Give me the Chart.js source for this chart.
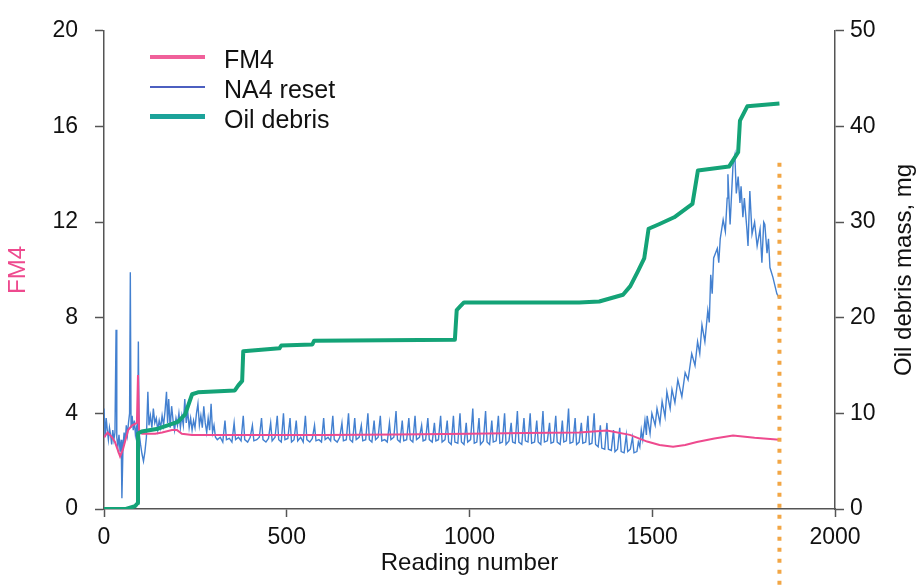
<!DOCTYPE html>
<html>
<head>
<meta charset="utf-8">
<script src="https://cdn.jsdelivr.net/npm/chart.js@4/dist/chart.umd.min.js"></script>
<style>
  html, body { margin: 0; padding: 0; background: #ffffff; }
  #wrap { position: relative; width: 920px; height: 585px; }
  #legend { position: absolute; left: 150px; top: 44px; font-family: "Liberation Sans", Arial, sans-serif; font-size: 25px; color: #111; }
  .row { display: flex; align-items: center; height: 30px; }
  .sw { width: 55px; margin-right: 19px; margin-top: -5px; }
</style>
</head>
<body>
<div id="wrap">
  <canvas id="c" width="920" height="585"></canvas>
  <div id="legend"></div>
</div>
<script>
// ---- Data ----
const xTickStep = 500;
const leftTickStep = 4;
const rightTickStep = 10;
const xTitle = "Reading number";
const leftTitle = "FM4";
const rightTitle = "Oil debris mass, mg";

// FM4 : [reading, value]
const fm4Points = [
  [0,3.0],[10,3.2],[22,3.0],[30,2.8],[44,2.2],[52,2.5],[66,3.3],[77,3.5],[90,3.6],[93,5.6],[96,3.3],
  [104,3.15],[140,3.15],[159,3.2],[186,3.3],[200,3.3],[213,3.15],[241,3.1],[400,3.1],[600,3.1],
  [800,3.12],[1000,3.15],[1150,3.18],[1300,3.2],[1376,3.28],[1439,3.1],[1486,2.82],[1520,2.68],
  [1557,2.6],[1590,2.68],[1622,2.8],[1670,2.95],[1721,3.07],[1780,2.98],[1848,2.9]
];

// NA4 reset : [reading, value]
const na4Points = [
  [0,4.2],[3,3.0],[6,3.8],[9,3.3],[12,2.9],[15,3.4],[18,3.1],[21,2.7],[24,3.3],[27,2.9],[30,3.2],[33,7.5],
  [35,3.0],[38,2.6],[41,3.1],[44,2.4],[47,2.9],[49,0.45],[52,2.6],[55,3.2],[58,2.8],[61,3.5],[64,3.1],
  [67,3.6],[70,4.0],[72,9.9],[74,3.4],[77,3.9],[80,3.3],[83,3.7],[86,3.1],[89,3.4],[92,3.0],[94,7.0],
  [96,3.2],[100,2.7],[104,2.3],[108,2.0],[112,2.4],[116,3.0],[120,4.9],[123,3.5],[127,3.9],[131,3.4],
  [135,4.2],[139,3.6],[143,3.8],[147,3.3],[151,3.7],[155,3.4],[159,3.9],[163,3.5],[167,4.1],[171,4.9],
  [174,3.6],[177,4.6],[181,3.4],[185,4.3],[189,3.7],[193,3.3],[197,3.8],[201,3.5],[205,4.0],[209,3.4],
  [213,3.9],[217,3.5],[221,4.6],[225,3.6],[229,4.1],[233,3.4],[237,3.8],[241,3.3],[245,3.7],[249,3.4],
  [253,4.0],[257,4.4],[261,3.5],[265,3.9],[269,3.4],[273,4.3],[277,3.6],[281,3.2],[285,3.8],[289,3.3],
  [293,4.4],[297,3.2],[301,3.5],[305,3.0],
  [310,2.9],[318,3.0],[325,2.8],[331,3.7],[335,2.9],[343,2.95],[350,2.8],[356,3.6],[360,2.9],[368,3.0],
  [375,2.85],[381,3.9],[385,2.9],[393,2.8],[400,3.0],[406,3.5],[410,2.85],[418,2.9],[425,3.0],[431,3.8],
  [435,2.9],[443,2.8],[450,2.95],[456,3.6],[460,2.85],[468,3.0],[474,3.9],[478,2.9],[485,2.8],[491,4.0],
  [495,2.9],[503,2.95],[509,3.8],[513,2.8],[520,2.9],[526,3.7],[530,2.85],[538,3.0],[545,2.8],[551,3.9],
  [555,2.9],[563,2.8],[570,2.95],[576,3.5],[580,2.85],[588,2.9],[595,2.8],[601,3.8],[605,2.9],[613,3.0],
  [620,2.85],[626,3.9],[630,2.9],[638,2.8],[645,3.0],[651,3.6],[655,2.85],[663,2.9],[669,4.0],[673,2.9],
  [680,2.8],[686,3.8],[690,2.9],[698,3.0],[704,3.5],[708,2.85],[716,2.9],[722,4.0],[726,2.9],[733,2.8],
  [739,3.7],[743,2.9],[750,3.0],[756,3.9],[760,2.85],[768,2.9],[775,2.8],[781,3.6],[785,2.9],[793,3.0],
  [799,4.1],[803,2.9],[810,2.8],[816,3.7],[820,2.85],[828,2.9],[834,3.8],[838,2.9],[845,2.8],[851,3.9],
  [855,2.9],[863,3.0],[869,3.5],[873,2.85],[880,2.9],[886,3.8],[890,2.9],[898,2.8],[904,3.6],[908,2.85],
  [915,2.9],[921,3.9],[925,2.8],[933,2.9],[939,3.7],[943,2.8],[950,2.7],[956,3.9],[960,2.8],[968,2.75],
  [974,4.0],[978,2.8],[985,2.7],[991,3.6],[995,2.8],[1003,2.9],[1009,4.2],[1013,2.75],[1020,2.8],[1026,3.8],
  [1030,2.7],[1038,2.85],[1044,4.1],[1048,2.8],[1055,2.7],[1061,3.7],[1065,2.8],[1073,2.85],[1079,3.9],
  [1083,2.75],[1090,2.8],[1096,4.0],[1100,2.7],[1108,2.85],[1114,3.6],[1118,2.8],[1125,2.75],[1131,4.1],
  [1135,2.8],[1143,2.7],[1149,3.8],[1153,2.85],[1160,2.8],[1166,4.0],[1170,2.75],[1178,2.8],[1184,3.7],
  [1188,2.8],[1195,2.7],[1201,4.1],[1205,2.8],[1213,2.85],[1219,3.6],[1223,2.75],[1230,2.8],[1236,3.9],
  [1240,2.8],[1248,2.7],[1254,3.7],[1258,2.8],[1265,2.85],[1271,4.2],[1275,2.75],[1283,2.8],[1289,3.8],
  [1293,2.7],[1300,2.8],[1306,3.6],[1310,2.75],[1318,2.8],[1324,3.9],[1328,2.7],[1335,2.75],[1341,4.0],
  [1345,2.7],[1352,2.6],[1358,3.5],[1362,2.55],[1370,2.5],[1376,3.6],[1380,2.5],[1388,2.45],[1394,3.3],
  [1398,2.4],[1405,2.5],[1411,3.4],[1415,2.4],[1423,2.35],[1429,3.1],[1433,2.4],[1440,2.5],[1446,3.0],
  [1450,2.35],[1458,2.4],[1462,2.8],[1466,2.6],
  [1470,3.3],[1474,2.9],[1480,3.7],[1484,3.1],[1486,3.9],[1494,3.15],[1499,4.0],[1508,3.5],[1513,4.2],
  [1521,3.6],[1527,4.5],[1535,3.85],[1540,4.9],[1549,4.2],[1554,5.0],[1562,4.45],[1570,5.4],[1581,4.7],
  [1590,5.7],[1598,5.4],[1608,6.5],[1617,6.0],[1624,7.0],[1630,6.5],[1636,7.7],[1644,7.0],[1652,8.3],
  [1656,7.8],[1660,9.8],[1664,9.0],[1668,10.5],[1678,10.9],[1682,10.3],[1686,11.3],[1694,12.1],[1700,11.6],
  [1705,13.0],[1707,14.0],[1713,11.9],[1721,14.4],[1726,14.8],[1730,13.2],[1735,13.9],[1740,12.8],
  [1743,13.5],[1748,12.2],[1752,13.0],[1759,11.7],[1762,11.0],[1767,13.3],[1773,11.5],[1780,12.0],
  [1787,11.0],[1795,11.7],[1800,10.3],[1805,12.0],[1808,11.9],[1814,10.7],[1818,11.3],[1822,10.1],
  [1830,9.7],[1841,9.0],[1848,8.8]
];

// Oil debris mass (mg) : [reading, value]
const oilPoints = [
  [0,0],[60,0],[85,0.3],[92,0.6],[93,7.9],[103,8.1],[148,8.4],[202,9.1],[222,9.9],[241,12.0],[257,12.2],
  [358,12.4],[367,12.9],[378,13.4],[381,16.5],[480,16.8],[485,17.1],[570,17.2],[575,17.6],[960,17.7],
  [965,20.8],[975,21.2],[985,21.6],[1300,21.6],[1355,21.7],[1420,22.4],[1440,23.3],[1460,24.8],[1478,26.2],
  [1490,29.3],[1520,29.8],[1560,30.5],[1610,31.9],[1625,35.4],[1710,35.8],[1735,37.3],[1740,40.6],
  [1760,42.1],[1848,42.4]
];

// end-of-test marker (reading, mg range on right axis)
const stopReading = 1848;
const stopRangeMg = [36.2, -8];

const seriesNames = ["FM4", "NA4 reset", "Oil debris"];
const seriesColors = ["#EE4A8E", "#4380D0", "#14A377"];
const legendColors = ["#F0609A", "#4C5FC0", "#1CA39A"];
const legendWidths = [4, 2.5, 5];

const toXY = arr => arr.map(p => ({x: p[0], y: p[1]}));
const FONT = '"Liberation Sans", Arial, sans-serif';
const INK = '#111111';
const AXIS = '#555555';
const plainTick = v => String(v);

const rightTitlePlugin = {
  id: 'rightTitle',
  afterDraw(chart) {
    const s = chart.scales.y2;
    const ctx = chart.ctx;
    ctx.save();
    ctx.translate(s.right - 16, (s.top + s.bottom) / 2);
    ctx.rotate(-Math.PI / 2);
    ctx.font = '24px ' + FONT;
    ctx.fillStyle = INK;
    ctx.textAlign = 'center';
    ctx.textBaseline = 'middle';
    ctx.fillText(rightTitle, 0, 0);
    ctx.restore();
  }
};

const chart = new Chart(document.getElementById('c'), {
  type: 'line',
  data: {
    datasets: [
      { label: seriesNames[0], data: toXY(fm4Points), yAxisID: 'y', borderColor: seriesColors[0], borderWidth: 2, pointRadius: 0, order: 2 },
      { label: seriesNames[1], data: toXY(na4Points), yAxisID: 'y', borderColor: seriesColors[1], borderWidth: 1.4, pointRadius: 0, order: 3 },
      { label: seriesNames[2], data: toXY(oilPoints), yAxisID: 'y2', borderColor: seriesColors[2], borderWidth: 4, pointRadius: 0, order: 1, borderJoinStyle: 'round' },
      { label: 'end', data: stopRangeMg.map(v => ({x: stopReading, y: v})), yAxisID: 'y2', borderColor: '#F2A645', borderWidth: 4, borderDash: [4, 7], pointRadius: 0, order: 0, clip: false }
    ]
  },
  options: {
    responsive: false,
    animation: false,
    events: [],
    layout: { padding: { top: 20, left: 0, right: 0, bottom: 0 } },
    plugins: { legend: { display: false }, tooltip: { enabled: false } },
    scales: {
      x: {
        type: 'linear', position: 'bottom', min: 0, max: 2000,
        afterFit: s => { s.height = 76; },
        ticks: { stepSize: xTickStep, padding: 7, color: INK, font: { family: FONT, size: 23 }, maxRotation: 0, callback: plainTick },
        grid: { display: true, drawOnChartArea: false, drawTicks: true, tickLength: 8, color: AXIS, tickWidth: 1.5 },
        border: { display: true, color: AXIS, width: 1.5 },
        title: { display: true, text: xTitle, color: INK, font: { family: FONT, size: 24 }, padding: { top: 0, bottom: 7 } }
      },
      y: {
        type: 'linear', position: 'left', min: 0, max: 20,
        afterFit: s => { s.width = 104; },
        ticks: { stepSize: leftTickStep, padding: 17, color: INK, font: { family: FONT, size: 23 }, callback: plainTick },
        grid: { display: true, drawOnChartArea: false, drawTicks: true, tickLength: 9, color: AXIS, tickWidth: 1.5 },
        border: { display: true, color: AXIS, width: 1.5 },
        title: { display: true, text: leftTitle, color: seriesColors[0], font: { family: FONT, size: 24 }, padding: { top: 4, bottom: 0 } }
      },
      y2: {
        type: 'linear', position: 'right', min: 0, max: 50,
        afterFit: s => { s.width = 85; },
        ticks: { stepSize: rightTickStep, padding: 6, color: INK, font: { family: FONT, size: 23 }, callback: plainTick },
        grid: { display: true, drawOnChartArea: false, drawTicks: true, tickLength: 9, color: AXIS, tickWidth: 1.5 },
        border: { display: true, color: AXIS, width: 1.5 }
      }
    }
  },
  plugins: [rightTitlePlugin]
});

// HTML legend built from the dataset labels
const legend = document.getElementById('legend');
seriesNames.forEach((name, i) => {
  const row = document.createElement('div');
  row.className = 'row';
  const sw = document.createElement('span');
  sw.className = 'sw';
  sw.style.borderTop = legendWidths[i] + 'px solid ' + legendColors[i];
  const t = document.createElement('span');
  t.textContent = name;
  row.appendChild(sw);
  row.appendChild(t);
  legend.appendChild(row);
});
</script>
</body>
</html>
